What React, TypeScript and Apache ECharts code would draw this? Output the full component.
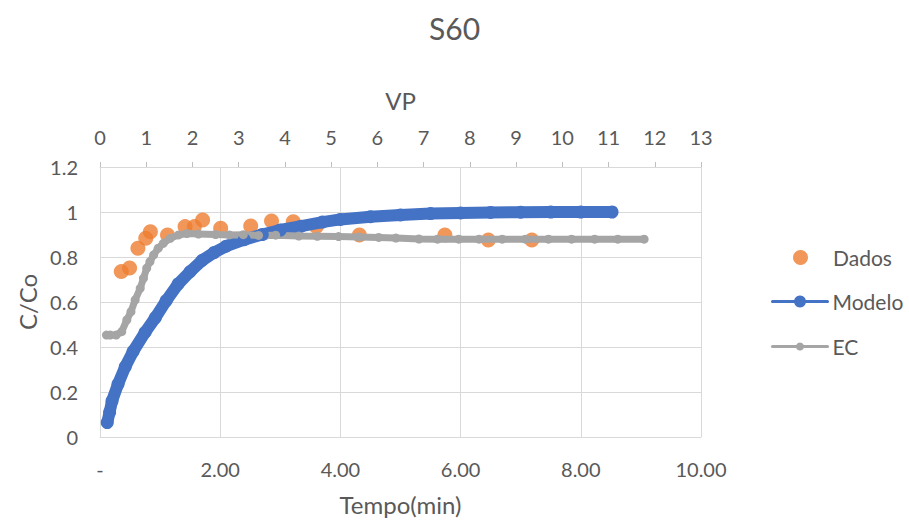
import React, { useEffect, useRef } from "react";
import * as echarts from "echarts";

const chartTitle = "S60";
const topAxisName = "VP";
const bottomAxisName = "Tempo(min)";
const yAxisName = "C/Co";

// Dados: [VP, C/Co]
const dadosData: number[][] = [
  [0.46, 0.735], [0.64, 0.751], [0.82, 0.839], [0.99, 0.883], [1.09, 0.912],
  [1.46, 0.898], [1.84, 0.935], [2.04, 0.935], [2.22, 0.964], [2.61, 0.928],
  [3.26, 0.938], [3.71, 0.96], [4.18, 0.957], [4.68, 0.935], [5.61, 0.898],
  [7.46, 0.898], [8.4, 0.876], [9.34, 0.876],
];

// Modelo: [Tempo(min), C/Co]
const modeloData: number[][] = [
  [0.12, 0.064], [0.16, 0.11], [0.2, 0.16], [0.3, 0.235], [0.42, 0.312],
  [0.55, 0.38], [0.75, 0.465], [0.92, 0.53], [1.1, 0.605], [1.3, 0.68],
  [1.5, 0.735], [1.7, 0.785], [1.9, 0.82], [2.1, 0.848], [2.4, 0.877],
  [2.7, 0.9], [3.0, 0.92], [3.35, 0.937], [3.7, 0.955], [4.0, 0.967],
  [4.5, 0.979], [5.0, 0.987], [5.5, 0.993], [6.0, 0.996], [6.5, 0.998],
  [7.0, 0.999], [7.5, 1.0], [8.0, 1.0], [8.52, 1.0],
];

// EC: [VP, C/Co]
const ecData: number[][] = [
  [0.14, 0.453], [0.22, 0.453], [0.35, 0.453], [0.47, 0.468], [0.58, 0.52],
  [0.67, 0.557], [0.76, 0.609], [0.87, 0.661], [0.94, 0.705], [1.01, 0.75],
  [1.08, 0.779], [1.16, 0.809], [1.26, 0.839], [1.37, 0.861], [1.52, 0.883],
  [1.7, 0.898], [1.88, 0.904], [2.13, 0.902], [2.5, 0.9], [2.8, 0.898],
  [3.1, 0.899], [3.43, 0.896], [3.8, 0.897], [4.3, 0.893], [4.7, 0.892],
  [5.16, 0.891], [5.6, 0.889], [6.03, 0.887], [6.4, 0.884], [6.9, 0.88],
  [7.3, 0.879], [7.76, 0.879], [8.2, 0.879], [8.7, 0.879], [9.2, 0.879],
  [9.7, 0.879], [10.2, 0.879], [10.7, 0.879], [11.2, 0.879], [11.77, 0.879],
];

const FONT = "Lato";
const TEXT = "#595959";
const GRID = "#D9D9D9";
const ORANGE = "#ED7D31";
const BLUE = "#4472C4";
const GRAY = "#A5A5A5";

export default function App() {
  const ref = useRef<HTMLDivElement>(null);
  useEffect(() => {
    if (!ref.current) return;
    const chart = echarts.init(ref.current, undefined, { renderer: "svg" });
    const legendBase = {
      orient: "vertical" as const,
      left: 766,
      itemWidth: 55,
      itemGap: 24,
      textStyle: { fontFamily: FONT, fontSize: 21, color: TEXT },
      lineStyle: { width: 3 },
    };
    const nameStyle = { fontFamily: FONT, fontSize: 24, color: TEXT };
    chart.setOption({
      animation: false,
      backgroundColor: "#ffffff",
      textStyle: { fontFamily: FONT },
      title: {
        text: chartTitle,
        left: "center",
        top: 8,
        textStyle: { fontFamily: FONT, fontSize: 30, fontWeight: "normal", color: TEXT },
      },
      legend: [
        { ...legendBase, left: 788, top: 242, itemHeight: 15, data: ["Dados"] },
        { ...legendBase, top: 286, itemHeight: 15, data: ["Modelo"] },
        { ...legendBase, top: 331, itemHeight: 10, data: ["EC"] },
      ],
      grid: { left: 100, right: 208, top: 167, bottom: 86, containLabel: false },
      xAxis: [
        {
          type: "value",
          position: "bottom",
          min: 0,
          max: 10,
          interval: 2,
          name: bottomAxisName,
          nameLocation: "middle",
          nameGap: 55,
          nameTextStyle: nameStyle,
          axisLine: { show: true, lineStyle: { color: GRID, width: 1 } },
          axisTick: { show: false },
          axisLabel: {
            margin: 22,
            fontFamily: FONT,
            fontSize: 20,
            color: TEXT,
            formatter: (v: number) => (v === 0 ? "-" : v.toFixed(2)),
          },
          splitLine: { show: true, lineStyle: { color: GRID, width: 1 } },
        },
        {
          type: "value",
          position: "top",
          min: 0,
          max: 13,
          interval: 1,
          name: topAxisName,
          nameLocation: "middle",
          nameGap: 55,
          nameTextStyle: nameStyle,
          axisLine: { show: true, onZero: false, lineStyle: { color: GRID, width: 1 } },
          axisTick: { show: true, length: 5, lineStyle: { color: "#BFBFBF" } },
          axisLabel: { margin: 20, fontFamily: FONT, fontSize: 20, color: TEXT },
          splitLine: { show: false },
        },
      ],
      yAxis: {
        type: "value",
        min: 0,
        max: 1.2,
        interval: 0.2,
        name: yAxisName,
        nameLocation: "middle",
        nameGap: 61,
        nameTextStyle: nameStyle,
        axisLine: { show: true, lineStyle: { color: GRID, width: 1 } },
        axisTick: { show: false },
        axisLabel: { margin: 22, fontFamily: FONT, fontSize: 20, color: TEXT },
        splitLine: { show: true, lineStyle: { color: GRID, width: 1 } },
      },
      series: [
        {
          name: "Dados",
          type: "scatter",
          xAxisIndex: 1,
          data: dadosData,
          symbol: "circle",
          symbolSize: 15,
          itemStyle: { color: ORANGE },
        },
        {
          name: "Modelo",
          type: "line",
          xAxisIndex: 0,
          data: modeloData,
          symbol: "circle",
          symbolSize: 13,
          showSymbol: true,
          lineStyle: { color: BLUE, width: 12, cap: "round", join: "round" },
          itemStyle: { color: BLUE, borderWidth: 0 },
        },
        {
          name: "EC",
          type: "line",
          xAxisIndex: 1,
          data: ecData,
          symbol: "circle",
          symbolSize: 9,
          showSymbol: true,
          lineStyle: { color: GRAY, width: 7, cap: "round", join: "round" },
          itemStyle: { color: GRAY, borderWidth: 0 },
        },
      ],
    });
    return () => chart.dispose();
  }, []);
  return (
    <div
      ref={ref}
      style={{ position: "fixed", left: 0, top: 0, width: 909, height: 523, background: "#fff" }}
    />
  );
}
